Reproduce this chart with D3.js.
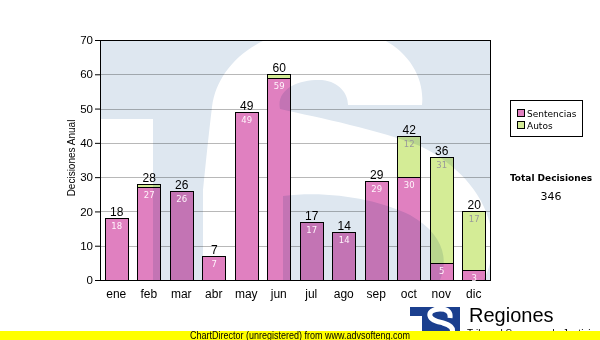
<!DOCTYPE html>
<html>
<head>
<meta charset="utf-8">
<script src="https://cdn.jsdelivr.net/npm/d3@7"></script>
<style>
  html, body { margin: 0; padding: 0; background: #fff; }
  svg { display: block; }
</style>
</head>
<body>
<svg id="chart" width="600" height="340"></svg>
<script>
// Monthly decisions, stacked by type
const months = ["ene", "feb", "mar", "abr", "may", "jun", "jul", "ago", "sep", "oct", "nov", "dic"];
const sentencias = [18, 27, 26, 7, 49, 59, 17, 14, 29, 30, 5, 3];
const autos = [0, 1, 0, 0, 0, 1, 0, 0, 0, 12, 31, 17];
const seriesNames = ["Sentencias", "Autos"];
const yTicks = [0, 10, 20, 30, 40, 50, 60, 70];
const yTitle = "Decisiones Anual";
const totalTitle = "Total Decisiones";
const footerText = "ChartDirector (unregistered) from www.advsofteng.com";
const brandName = "Regiones";
const brandSub = "Tribunal Supremo de Justicia";

const colors = { Sentencias: "#e080c0", Autos: "#d4ec96" };
const plot = { left: 100, top: 40, right: 490, bottom: 280 };

const svg = d3.select("#chart");

const x = d3.scaleBand()
  .domain(months)
  .range([plot.left, plot.right])
  .paddingInner(0.292)
  .paddingOuter(0.146);

const y = d3.scaleLinear()
  .domain([0, 70])
  .range([plot.bottom, plot.top]);

const rows = months.map((m, i) => ({
  month: m,
  s: sentencias[i],
  a: autos[i],
  total: sentencias[i] + autos[i]
}));
const stack = d3.stack().keys(["s", "a"])(rows);

// gridlines
svg.append("g")
  .selectAll("line")
  .data(yTicks.filter(t => t > 0 && t < 70))
  .join("line")
  .attr("x1", plot.left).attr("x2", plot.right)
  .attr("y1", d => Math.round(y(d)) + 0.5).attr("y2", d => Math.round(y(d)) + 0.5)
  .attr("stroke", "#b8b8b8").attr("stroke-width", 1);

// stacked bars
const barG = svg.append("g");
stack.forEach((layer, li) => {
  const name = seriesNames[li];
  barG.append("g")
    .selectAll("rect")
    .data(layer.filter(d => d[1] > d[0]))
    .join("rect")
    .attr("x", d => Math.round(x(d.data.month)) + 0.5)
    .attr("y", d => Math.round(y(d[1])) + 0.5)
    .attr("width", Math.round(x.bandwidth()))
    .attr("height", d => Math.round(y(d[0])) - Math.round(y(d[1])))
    .attr("fill", colors[name])
    .attr("stroke", "#000")
    .attr("stroke-width", 1);
});

// watermark logo over the plot area (multiplied so bars tint through)
const defs = svg.append("defs");
defs.append("clipPath").attr("id", "plotClip")
  .append("rect")
  .attr("x", plot.left).attr("y", plot.top)
  .attr("width", plot.right - plot.left).attr("height", plot.bottom - plot.top);

const wm = svg.append("g")
  .attr("clip-path", "url(#plotClip)")
  .style("mix-blend-mode", "multiply");
// the "T" block
wm.append("path")
  .attr("d", `M${plot.left},${plot.top}H${plot.right}V${plot.bottom}H153V119H${plot.left}Z`)
  .attr("fill", "#dee7f0");
// the white "S"
wm.append("path")
  .attr("d",
    "M422,105 C426,68 394,28 330,27 C266,26 218,60 212,107 " +
    "C208,140 205,170 203,190 L203,300 L283,300 L283,196 " +
    "C330,190 380,200 410,215 C440,232 450,255 440,280 L430,300 " +
    "L468,300 C485,285 494,262 492,238 " +
    "C490,200 460,165 420,146 C380,130 320,118 280,109 " +
    "C276,88 300,79 322,80 C340,82 348,94 348,105 Z")
  .attr("fill", "#fff");

// plot frame
svg.append("rect")
  .attr("x", plot.left + 0.5).attr("y", plot.top + 0.5)
  .attr("width", plot.right - plot.left).attr("height", plot.bottom - plot.top)
  .attr("fill", "none").attr("stroke", "#000").attr("stroke-width", 1);

// value labels
const lbl = svg.append("g");
// totals above bars
lbl.selectAll("text.total")
  .data(rows)
  .join("text")
  .attr("class", "total")
  .attr("x", d => x(d.month) + x.bandwidth() / 2 + 0.5)
  .attr("y", d => y(d.total) - 2)
  .attr("text-anchor", "middle")
  .attr("font-family", "Liberation Sans, Arial, sans-serif")
  .attr("font-size", 12)
  .attr("fill", "#000")
  .text(d => d.total);

// segment labels at the top of each segment
stack.forEach((layer, li) => {
  lbl.append("g")
    .selectAll("text")
    .data(layer.filter(d => d[1] - d[0] >= 2))
    .join("text")
    .attr("x", d => x(d.data.month) + x.bandwidth() / 2 + 0.5)
    .attr("y", d => y(d[1]) + 11)
    .attr("text-anchor", "middle")
    .attr("font-family", "DejaVu Sans, Verdana, sans-serif")
    .attr("font-size", 8.5)
    .attr("fill", li === 0 ? "#fff4fb" : "#9a9a9a")
    .text(d => d[1] - d[0]);
});

// y axis
const yAxis = svg.append("g")
  .attr("transform", `translate(${plot.left},0)`)
  .call(d3.axisLeft(y).tickValues(yTicks).tickSize(5).tickPadding(2).tickSizeOuter(0));
yAxis.select(".domain").remove();
yAxis.selectAll("text")
  .attr("font-family", "Liberation Sans, Arial, sans-serif")
  .attr("font-size", 11.5)
  .attr("fill", "#000");

// x axis labels
const xAxis = svg.append("g")
  .attr("transform", `translate(0,${plot.bottom})`)
  .call(d3.axisBottom(x).tickSize(0).tickPadding(9));
xAxis.select(".domain").remove();
xAxis.selectAll("text")
  .attr("font-family", "Liberation Sans, Arial, sans-serif")
  .attr("font-size", 12)
  .attr("fill", "#000");

// y title
svg.append("text")
  .attr("transform", `translate(75,${(plot.top + plot.bottom) / 2 - 2}) rotate(-90)`)
  .attr("text-anchor", "middle")
  .attr("font-family", "Liberation Sans, Arial, sans-serif")
  .attr("font-size", 10)
  .text(yTitle);

// legend
const leg = svg.append("g");
leg.append("rect")
  .attr("x", 510.5).attr("y", 100.5).attr("width", 72).attr("height", 36)
  .attr("fill", "#fff").attr("stroke", "#000");
seriesNames.forEach((name, i) => {
  leg.append("rect")
    .attr("x", 517.5).attr("y", 109.5 + i * 12).attr("width", 7).attr("height", 7)
    .attr("fill", colors[name]).attr("stroke", "#000");
  leg.append("text")
    .attr("x", 527).attr("y", 117 + i * 12)
    .attr("font-family", "DejaVu Sans, Verdana, sans-serif")
    .attr("font-size", 9)
    .text(name);
});

// grand total
const grandTotal = d3.sum(rows, d => d.total);
svg.append("text")
  .attr("x", 551).attr("y", 181)
  .attr("text-anchor", "middle")
  .attr("font-family", "DejaVu Sans, Verdana, sans-serif")
  .attr("font-weight", "bold")
  .attr("font-size", 9)
  .text(totalTitle);
svg.append("text")
  .attr("x", 551).attr("y", 200)
  .attr("text-anchor", "middle")
  .attr("font-family", "DejaVu Sans, Verdana, sans-serif")
  .attr("font-size", 11)
  .text(grandTotal);

// brand logo
const logo = svg.append("g");
logo.append("path")
  .attr("d", "M410,307H460V340H422V316H410Z")
  .attr("fill", "#1b3f8e");
logo.append("path")
  .attr("d", "M450,318 C451,311 446,309 440,309 C433,309 429,312 430,316 C431,320 436,321 443,323 C450,325 454,328 452,333 C450,337 442,338 430,336")
  .attr("fill", "none").attr("stroke", "#fff").attr("stroke-width", 5);
logo.append("text")
  .attr("x", 469).attr("y", 322)
  .attr("font-family", "Liberation Sans, Arial, sans-serif")
  .attr("font-size", 20)
  .text(brandName);
logo.append("text")
  .attr("x", 467).attr("y", 337)
  .attr("font-family", "Liberation Sans, Arial, sans-serif")
  .attr("font-size", 10)
  .text(brandSub);

// footer strip
svg.append("rect")
  .attr("x", 0).attr("y", 331).attr("width", 600).attr("height", 9)
  .attr("fill", "#ffff00");
svg.append("text")
  .attr("x", 300).attr("y", 339)
  .attr("text-anchor", "middle")
  .attr("font-family", "Liberation Sans, Arial, sans-serif")
  .attr("font-size", 10)
  .attr("textLength", 220)
  .attr("lengthAdjust", "spacingAndGlyphs")
  .text(footerText);
</script>
</body>
</html>
